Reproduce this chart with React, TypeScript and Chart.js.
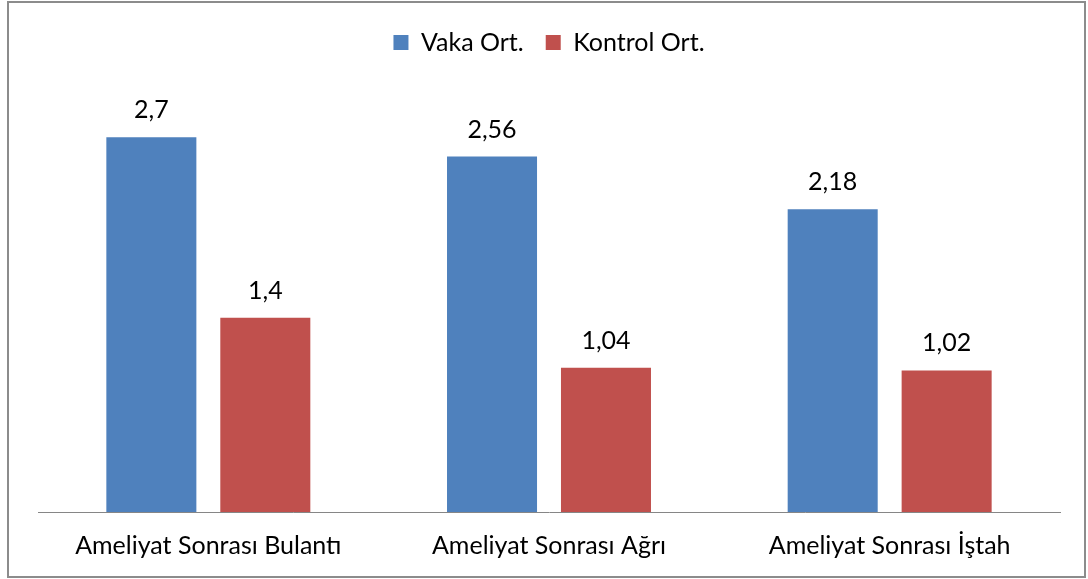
import React, { useEffect, useRef } from "react";
import { Chart, registerables } from "chart.js";

Chart.register(...registerables);

const categories = ["Ameliyat Sonrası Bulantı", "Ameliyat Sonrası Ağrı", "Ameliyat Sonrası İştah"];
const vakaValues = [2.7, 2.56, 2.18];
const kontrolValues = [1.4, 1.04, 1.02];
const seriesNames = ["Vaka Ort.", "Kontrol Ort."];

const FONT = "Lato, 'Open Sans', sans-serif";

const borderPlugin = {
  id: "outerBorder",
  beforeDraw(chart: any) {
    const ctx = chart.ctx;
    ctx.save();
    ctx.fillStyle = "#ffffff";
    ctx.fillRect(0, 0, chart.width, chart.height);
    ctx.strokeStyle = "#8c8c8c";
    ctx.lineWidth = 2;
    ctx.strokeRect(8, 2, 1077, 575);
    ctx.restore();
  },
};

const valueLabelPlugin = {
  id: "valueLabels",
  afterDatasetsDraw(chart: any) {
    const ctx = chart.ctx;
    ctx.save();
    ctx.font = `25px ${FONT}`;
    ctx.fillStyle = "#000000";
    ctx.textAlign = "center";
    ctx.textBaseline = "alphabetic";
    chart.data.datasets.forEach((ds: any, di: number) => {
      const meta = chart.getDatasetMeta(di);
      meta.data.forEach((bar: any, i: number) => {
        const v = ds.data[i];
        ctx.fillText(String(v).replace(".", ","), bar.x, bar.y - 19);
      });
    });
    ctx.restore();
  },
};

export default function App() {
  const ref = useRef<HTMLCanvasElement | null>(null);
  useEffect(() => {
    if (!ref.current) return;
    const chart = new Chart(ref.current, {
      type: "bar",
      data: {
        labels: categories,
        datasets: [
          { label: seriesNames[0], data: vakaValues, backgroundColor: "#4F81BD", categoryPercentage: 0.669, barPercentage: 0.79 },
          { label: seriesNames[1], data: kontrolValues, backgroundColor: "#C0504D", categoryPercentage: 0.669, barPercentage: 0.79 },
        ],
      },
      options: {
        animation: false,
        responsive: false,
        maintainAspectRatio: false,
        layout: { padding: { left: 38, right: 28, top: 8, bottom: 0 } },
        plugins: {
          legend: {
            position: "top",
            labels: {
              font: { family: FONT, size: 25 },
              color: "#000000",
              boxWidth: 15,
              boxHeight: 15,
              padding: 22,
            },
          },
          tooltip: { enabled: false },
        },
        scales: {
          x: {
            grid: { display: false, drawTicks: false },
            border: { display: true, color: "#868686", width: 1 },
            ticks: { font: { family: FONT, size: 25 }, color: "#000000", padding: 19, maxRotation: 0 },
            afterFit(scale: any) {
              scale.height = 67;
            },
          },
          y: {
            display: false,
            min: 0,
            max: 3.22,
          },
        },
      },
      plugins: [borderPlugin, valueLabelPlugin],
    });
    return () => chart.destroy();
  }, []);
  return (
    <div style={{ position: "absolute", left: 0, top: 0, width: 1088, height: 579 }}>
      <canvas ref={ref} width={1088} height={579} style={{ display: "block" }} />
    </div>
  );
}
